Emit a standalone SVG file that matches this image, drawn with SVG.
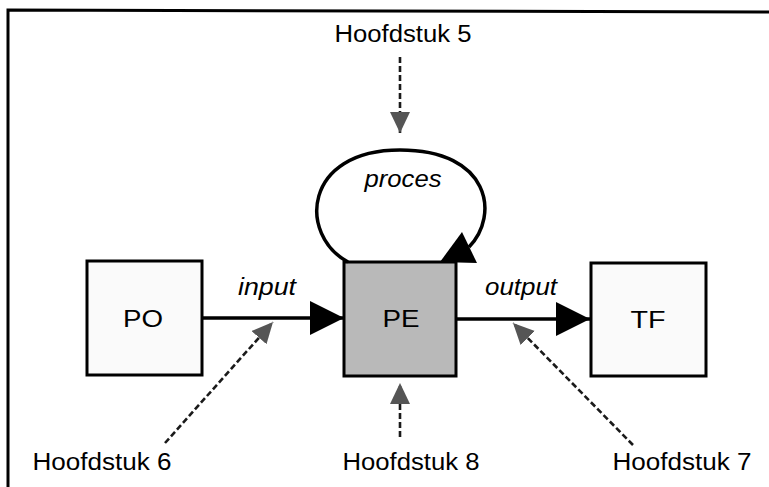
<svg xmlns="http://www.w3.org/2000/svg" width="769" height="487" viewBox="0 0 769 487">
  <style>
    .frame { fill: none; stroke: #000; stroke-width: 3; }
    .box { stroke: #000; stroke-width: 3; }
    .light { fill: #fafafa; }
    .pe { fill: #b9b9b9; }
    .flow { fill: none; stroke: #000; stroke-width: 3.5; }
    .hint { fill: none; stroke: #1a1a1a; stroke-width: 2.6; stroke-dasharray: 6 3; }
    .label { font-family: "Liberation Sans", Arial, sans-serif; font-size: 23px; fill: #000; }
    .it { font-style: italic; }
  </style>
  <defs>
    <marker id="solid" markerUnits="userSpaceOnUse" markerWidth="36" markerHeight="36" refX="34" refY="17" orient="auto">
      <path d="M0,0 L34,17 L0,34 z" fill="#000"/>
    </marker>
    <marker id="hintHead" markerUnits="userSpaceOnUse" markerWidth="24" markerHeight="22" refX="21" refY="10" orient="auto">
      <path d="M0,0 L21,10 L0,20 z" fill="#555"/>
    </marker>
  </defs>

  <!-- outer frame (top and left edges) -->
  <path class="frame" d="M8,487 L8,10 L769,12"/>

  <!-- nodes -->
  <g id="node-po">
    <rect class="box light" x="87" y="261" width="115" height="114"/>
    <text class="label" x="143" y="327" text-anchor="middle" textLength="40" lengthAdjust="spacingAndGlyphs">PO</text>
  </g>
  <g id="node-pe">
    <rect class="box pe" x="344" y="262" width="112" height="114"/>
    <text class="label" x="401" y="327" text-anchor="middle" textLength="37" lengthAdjust="spacingAndGlyphs">PE</text>
  </g>
  <g id="node-tf">
    <rect class="box light" x="591" y="263" width="115" height="113"/>
    <text class="label" x="648" y="328" text-anchor="middle" textLength="35" lengthAdjust="spacingAndGlyphs">TF</text>
  </g>

  <!-- connectors -->
  <g id="connectors">
    <line class="flow" x1="202" y1="318" x2="344" y2="318" marker-end="url(#solid)"/>
    <line class="flow" x1="456" y1="319" x2="590" y2="319" marker-end="url(#solid)"/>
    <path class="flow" d="M348,262 C298,235 303,150 400,150 C490,150 500,215 469,247"/>
    <polygon points="440,262 462,232 477,263" fill="#000"/>

    <line class="hint" x1="400" y1="57" x2="400" y2="133" marker-end="url(#hintHead)"/>
    <line class="hint" x1="400" y1="437" x2="400" y2="383" marker-end="url(#hintHead)"/>
    <line class="hint" x1="165" y1="443" x2="273" y2="322" marker-end="url(#hintHead)"/>
    <line class="hint" x1="633" y1="445" x2="513" y2="323" marker-end="url(#hintHead)"/>
  </g>

  <!-- connector labels -->
  <g id="labels">
    <text class="label it" x="267" y="295" text-anchor="middle" textLength="58" lengthAdjust="spacingAndGlyphs">input</text>
    <text class="label it" x="521" y="295" text-anchor="middle" textLength="72" lengthAdjust="spacingAndGlyphs">output</text>
    <text class="label it" x="403" y="187" text-anchor="middle" textLength="77" lengthAdjust="spacingAndGlyphs">proces</text>
  </g>

  <!-- chapter references -->
  <g id="chapter-5"><text class="label" x="403" y="42" text-anchor="middle" textLength="137" lengthAdjust="spacingAndGlyphs">Hoofdstuk 5</text></g>
  <g id="chapter-6"><text class="label" x="102" y="470" text-anchor="middle" textLength="139" lengthAdjust="spacingAndGlyphs">Hoofdstuk 6</text></g>
  <g id="chapter-8"><text class="label" x="411" y="470" text-anchor="middle" textLength="137" lengthAdjust="spacingAndGlyphs">Hoofdstuk 8</text></g>
  <g id="chapter-7"><text class="label" x="682" y="470" text-anchor="middle" textLength="139" lengthAdjust="spacingAndGlyphs">Hoofdstuk 7</text></g>
</svg>
